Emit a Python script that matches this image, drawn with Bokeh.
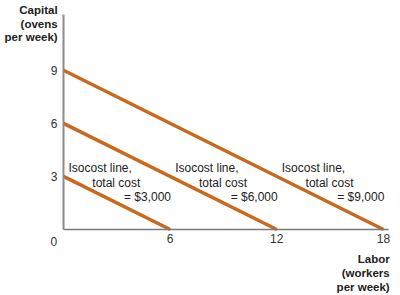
from bokeh.plotting import figure
from bokeh.models import Range1d, FixedTicker, Label, ColumnDataSource
from bokeh.embed import file_html
from bokeh.resources import INLINE

# Isocost lines: labor intercept (workers/week), capital intercept (ovens/week)
labor_max = [6, 12, 18]
capital_max = [3, 6, 9]
cost_labels = ["$3,000", "$6,000", "$9,000"]

x_ticks = [6, 12, 18]
y_ticks = [3, 6, 9]

FONT = "Liberation Sans"
LINE_COLOR = "#c8691e"
AXIS_COLOR = "#8c8c8c"
TEXT_COLOR = "#222222"

# The frame fills the whole canvas; the axes sit at the origin so the
# axis titles and the "0" can live in the space left and below them.
p = figure(width=400, height=295, output_backend="svg", toolbar_location=None,
           x_range=Range1d(-3.545, 18.96), y_range=Range1d(-3.73, 12.94),
           min_border=0, outline_line_color=None,
           background_fill_color="white", border_fill_color="white")
p.grid.visible = False

for ax, ticks in ((p.xaxis[0], x_ticks), (p.yaxis[0], y_ticks)):
    ax.ticker = FixedTicker(ticks=ticks)
    ax.fixed_location = 0
    ax.major_tick_in = 0
    ax.major_tick_out = 0
    ax.minor_tick_in = 0
    ax.minor_tick_out = 0
    ax.major_label_orientation = "horizontal"
    ax.major_label_text_font = FONT
    ax.major_label_text_font_size = "12px"
    ax.major_label_text_color = "#333333"
p.xaxis.bounds = (0, 18.3)
p.yaxis.bounds = (0, 12.15)
p.xaxis.major_label_standoff = 5
p.yaxis.major_label_standoff = 6
p.xaxis.axis_line_width = 1.5
p.xaxis.axis_line_color = "#7a7a7a"
p.yaxis.axis_line_width = 2
p.yaxis.axis_line_color = AXIS_COLOR

# Isocost lines from (0, K) to (L, 0)
src = ColumnDataSource(dict(
    xs=[[0, L] for L in labor_max],
    ys=[[K, 0] for K in capital_max],
))
p.multi_line("xs", "ys", source=src, line_color=LINE_COLOR, line_width=3.5)

# Line annotations, placed left of each line's labor intercept
for L, cost in zip(labor_max, cost_labels):
    left = L - 6
    p.add_layout(Label(x=left + 0.28, y=3.47, text="Isocost line,", text_font=FONT,
                       text_font_size="12px", text_color=TEXT_COLOR,
                       text_baseline="middle", text_align="left"))
    p.add_layout(Label(x=left + 1.62, y=2.62, text="total cost", text_font=FONT,
                       text_font_size="12px", text_color=TEXT_COLOR,
                       text_baseline="middle", text_align="left"))
    p.add_layout(Label(x=left + 6.05, y=1.82, text="= " + cost, text_font=FONT,
                       text_font_size="12px", text_color=TEXT_COLOR,
                       text_baseline="middle", text_align="right"))

# Origin label
p.add_layout(Label(x=-0.55, y=-0.66, text="0", text_font=FONT, text_font_size="12px",
                   text_color="#333333", text_baseline="middle", text_align="center"))

# Axis titles
for i, t in enumerate(["Capital", "(ovens", "per week)"]):
    p.add_layout(Label(x=-0.33, y=12.42 - i * 0.78, text=t, text_font=FONT,
                       text_font_size="11.5px", text_font_style="bold",
                       text_color=TEXT_COLOR, text_baseline="middle", text_align="right"))
for i, t in enumerate(["Labor", "(workers", "per week)"]):
    p.add_layout(Label(x=18.35, y=-1.66 - i * 0.8, text=t, text_font=FONT,
                       text_font_size="11.5px", text_font_style="bold",
                       text_color=TEXT_COLOR, text_baseline="middle", text_align="right"))

open("out.html", "w").write(file_html(p, INLINE))
